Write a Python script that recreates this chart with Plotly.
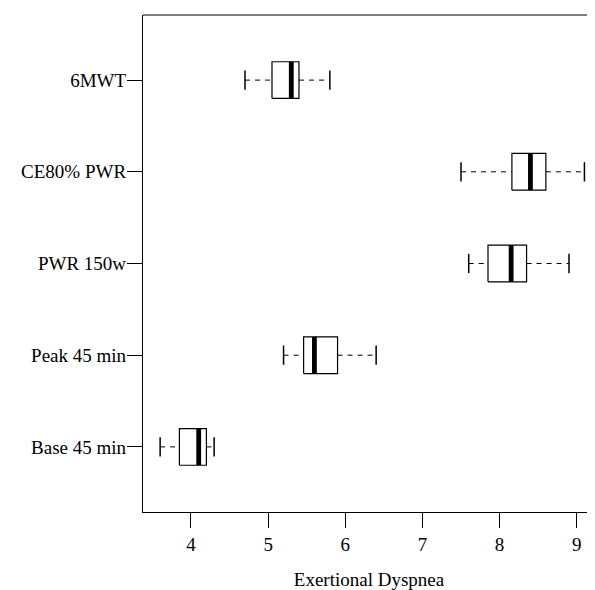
import plotly.graph_objects as go

categories = ["Base 45 min", "Peak 45 min", "PWR 150w", "CE80% PWR", "6MWT"]
lower_whisker = [3.6, 5.2, 7.6, 7.5, 4.7]
q1 = [3.85, 5.46, 7.85, 8.16, 5.05]
median = [4.1, 5.6, 8.15, 8.4, 5.3]
q3 = [4.2, 5.9, 8.35, 8.6, 5.4]
upper_whisker = [4.3, 6.4, 8.9, 9.1, 5.8]
x_ticks = [4, 5, 6, 7, 8, 9]

BOX_HALF = 0.2
STAPLE_HALF = 0.105
FONT = "Liberation Serif"

fig = go.Figure()
for i, cat in enumerate(categories):
    y = i + 1
    # whiskers (dashed)
    fig.add_trace(go.Scatter(
        x=[lower_whisker[i], q1[i], None, q3[i], upper_whisker[i]],
        y=[y, y, None, y, y], mode="lines",
        line=dict(color="black", width=1, dash="5px,5px"),
        hoverinfo="skip", showlegend=False))
    # staples
    fig.add_trace(go.Scatter(
        x=[lower_whisker[i], lower_whisker[i], None, upper_whisker[i], upper_whisker[i]],
        y=[y - STAPLE_HALF, y + STAPLE_HALF, None, y - STAPLE_HALF, y + STAPLE_HALF],
        mode="lines", line=dict(color="black", width=1.5),
        hoverinfo="skip", showlegend=False))
    # box
    fig.add_trace(go.Scatter(
        x=[q1[i], q3[i], q3[i], q1[i], q1[i]],
        y=[y - BOX_HALF, y - BOX_HALF, y + BOX_HALF, y + BOX_HALF, y - BOX_HALF],
        mode="lines", fill="toself", fillcolor="white",
        line=dict(color="black", width=1.2),
        hoverinfo="skip", showlegend=False, name=cat))
    # median
    fig.add_trace(go.Scatter(
        x=[median[i], median[i]], y=[y - BOX_HALF, y + BOX_HALF],
        mode="lines", line=dict(color="black", width=4.8),
        hoverinfo="skip", showlegend=False))

fig.add_shape(type="line", xref="paper", yref="paper", x0=0, x1=1, y0=1, y1=1,
              line=dict(color="black", width=1.2))

fig.update_layout(
    width=587, height=582,
    margin=dict(l=135, r=0, t=7, b=78),
    paper_bgcolor="white", plot_bgcolor="white",
    font=dict(family=FONT, size=19, color="black"),
    xaxis=dict(range=[3.378, 9.237], tickvals=x_ticks, ticktext=[str(v) for v in x_ticks],
               ticks="outside", ticklen=15, tickwidth=1, tickcolor="black",
               showline=True, linecolor="black", linewidth=1.2, showgrid=False, zeroline=False,
               title=dict(text="Exertional Dyspnea", standoff=19, font=dict(size=19)),
               automargin=False),
    yaxis=dict(range=[0.29, 5.71], tickvals=[1, 2, 3, 4, 5], ticktext=categories,
               ticks="outside", ticklen=15, tickwidth=1, tickcolor="black",
               showline=True, linecolor="black", linewidth=1.2, showgrid=False, zeroline=False,
               ticklabelstandoff=-3, automargin=False),
)

fig.write_html("out.html")
